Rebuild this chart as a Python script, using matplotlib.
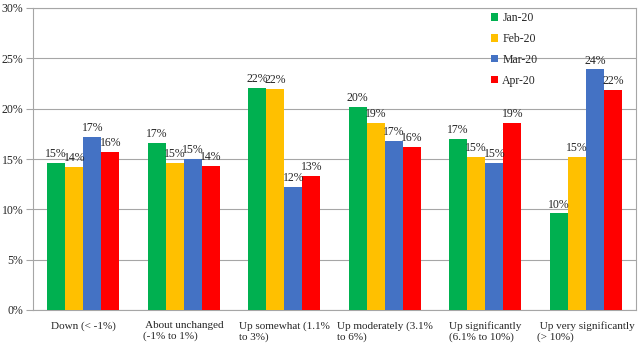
import matplotlib
matplotlib.use("Agg")
import matplotlib.pyplot as plt
import numpy as np

plt.rcParams['font.family'] = ['Liberation Serif', 'DejaVu Serif']

categories = ["Down (< -1%)", " About unchanged\n(-1% to 1%)", "Up somewhat (1.1%\nto 3%)",
              "Up moderately (3.1%\nto 6%)", "Up significantly\n(6.1% to 10%)",
              " Up very significantly\n(> 10%)"]
series = ["Jan-20", "Feb-20", "Mar-20", "Apr-20"]
jan = [14.6, 16.6, 22.1, 20.2, 17.0, 9.6]
feb = [14.2, 14.6, 22.0, 18.6, 15.2, 15.2]
mar = [17.2, 15.0, 12.2, 16.8, 14.6, 23.9]
apr = [15.7, 14.3, 13.3, 16.2, 18.6, 21.9]
colors = ["#00B050", "#FFC000", "#4472C4", "#FF0000"]

grid_c = "#A6A6A6"
text_c = "#262626"
fs = 8.5

fig = plt.figure(figsize=(6.4, 3.48), dpi=100)
ax = fig.add_axes([33/640, 38/348, 603/640, 302/348])

x = np.arange(len(categories))
w = 0.18
for i, (name, vals) in enumerate(zip(series, [jan, feb, mar, apr])):
    pos = x + (i - 1.5) * w
    bars = ax.bar(pos, vals, w, color=colors[i], label=name, zorder=3)
    for b, v in zip(bars, vals):
        ax.annotate(f"{round(v):d}%", (b.get_x() + b.get_width()/2, v),
                    xytext=(0, 2), textcoords="offset points",
                    ha="center", va="bottom", fontsize=fs, color=text_c, zorder=4)

ax.set_xlim(-0.5, len(categories) - 0.5)
ax.set_ylim(0, 30)
ax.set_yticks(np.arange(0, 31, 5))
ax.set_yticklabels([f"{t}%" for t in range(0, 31, 5)])
ax.yaxis.grid(True, color=grid_c, linewidth=0.8, zorder=0)
ax.set_xticks(x)
ax.set_xticklabels(categories)
for lab in ax.get_xticklabels():
    lab.set_multialignment("left")
ax.tick_params(axis="x", length=0, pad=8, labelsize=8.0, colors=text_c)
ax.tick_params(axis="y", length=5, width=0.8, color=grid_c, pad=2, labelsize=fs, labelcolor=text_c)
for s in ax.spines.values():
    s.set_color(grid_c)
    s.set_linewidth(0.8)

leg = ax.legend(loc="upper left", bbox_to_anchor=(0.747, 1.01), frameon=False,
                fontsize=fs, handlelength=0.6, handleheight=0.6, handletextpad=0.4,
                labelspacing=0.75, borderaxespad=0.2)
for t in leg.get_texts():
    t.set_color(text_c)

fig.savefig("out.png", dpi=100)
